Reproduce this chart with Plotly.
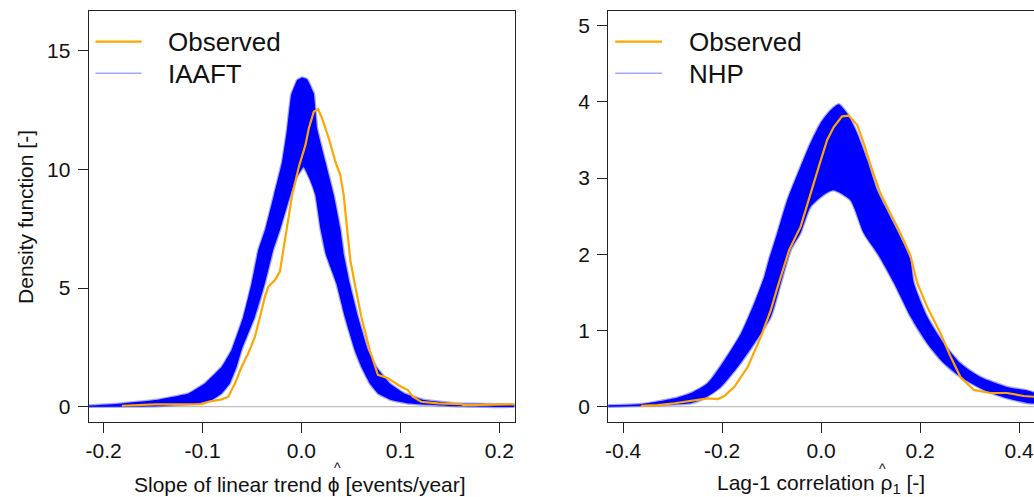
import plotly.graph_objects as go

# ---------------- Left panel: slope of linear trend (IAAFT vs observed) ----------------
slope_ticks = [-0.2, -0.1, 0.0, 0.1, 0.2]
slope_tick_text = ["-0.2", "-0.1", "0.0", "0.1", "0.2"]
density_ticks_left = [0, 5, 10, 15]

# upper envelope of the IAAFT ensemble densities
iaaft_upper_x = [-0.2150, -0.1818, -0.1478, -0.1142, -0.0974, -0.0806, -0.0706, -0.0588, -0.0504,
                 -0.0436, -0.0363, -0.0278, -0.0195, -0.0144, -0.0104, -0.0043, 0.0007, 0.0057,
                 0.0125, 0.0158, 0.0242, 0.0327, 0.0393, 0.0430, 0.0488, 0.0572, 0.0672, 0.0756,
                 0.0891, 0.1042, 0.1244, 0.1546, 0.2154]
iaaft_upper_y = [0.05, 0.14, 0.28, 0.56, 0.99, 1.68, 2.39, 3.79, 5.20,
                 6.60, 7.51, 8.92, 10.32, 11.73, 13.13, 13.76, 13.87, 13.80,
                 13.20, 11.73, 10.32, 8.92, 7.51, 6.39, 5.20, 3.79, 2.39, 1.68,
                 0.99, 0.56, 0.28, 0.14, 0.09]
# lower envelope of the IAAFT ensemble densities
iaaft_lower_x = [-0.2150, -0.1505, -0.1041, -0.0907, -0.0806, -0.0722, -0.0655, -0.0605, -0.0470,
                 -0.0369, -0.0285, -0.0212, -0.0111, -0.0053, 0.0022, 0.0088, 0.0141, 0.0192,
                 0.0249, 0.0353, 0.0438, 0.0538, 0.0605, 0.0690, 0.0773, 0.0907, 0.1076, 0.1519,
                 0.2154]
iaaft_lower_y = [0.0, 0.02, 0.14, 0.28, 0.56, 0.99, 1.68, 2.39, 3.79,
                 5.20, 6.60, 7.51, 8.92, 9.63, 10.10, 9.55, 8.92, 7.51,
                 6.39, 5.20, 3.79, 2.39, 1.68, 0.99, 0.56, 0.28, 0.14, 0.03,
                 0.0]
# observed density of the slope
slope_obs_x = [-0.1815, -0.1478, -0.1008, -0.0941, -0.0806, -0.0739, -0.0671, -0.0605, -0.0537,
               -0.0470, -0.0419, -0.0369, -0.0336, -0.0268, -0.0218, -0.0184, -0.0144, -0.0094,
               -0.0026, 0.0040, 0.0075, 0.0125, 0.0168, 0.0209, 0.0276, 0.0343, 0.0393, 0.0427,
               0.0461, 0.0494, 0.0538, 0.0605, 0.0690, 0.0773, 0.0874, 0.1008, 0.1076, 0.1126,
               0.1210, 0.1378, 0.1613, 0.1647, 0.2151]
slope_obs_y = [0.04, 0.10, 0.11, 0.21, 0.31, 0.42, 0.99, 1.68, 2.25,
               2.95, 3.79, 4.63, 5.05, 5.34, 5.69, 6.60, 7.51, 8.92,
               10.11, 11.02, 11.73, 12.43, 12.54, 12.15, 11.31, 10.32, 9.76, 8.92,
               7.51, 6.18, 5.20, 3.79, 2.39, 1.34, 1.20, 0.84, 0.70, 0.42,
               0.21, 0.14, 0.11, 0.07, 0.10]

# ---------------- Right panel: lag-1 correlation (NHP vs observed) ----------------
rho_ticks = [-0.4, -0.2, 0.0, 0.2, 0.4]
rho_tick_text = ["-0.4", "-0.2", "0.0", "0.2", "0.4"]
density_ticks_right = [0, 1, 2, 3, 4, 5]

nhp_upper_x = [-0.4308, -0.3637, -0.2963, -0.2629, -0.2292, -0.1955, -0.1620, -0.1350, -0.1148,
               -0.1056, -0.0886, -0.0685, -0.0416, -0.0215, -0.0013, 0.0189, 0.0356, 0.0525,
               0.0727, 0.0929, 0.1130, 0.1398, 0.1667, 0.1802, 0.1876, 0.2145, 0.2481, 0.2816,
               0.3219, 0.3758, 0.4310]
nhp_upper_y = [0.02, 0.035, 0.11, 0.18, 0.31, 0.61, 0.96, 1.36, 1.71,
               1.93, 2.28, 2.71, 3.15, 3.46, 3.72, 3.89, 3.97, 3.85,
               3.59, 3.24, 2.84, 2.49, 2.14, 1.93, 1.62, 1.18, 0.83, 0.57,
               0.39, 0.26, 0.18]
nhp_lower_x = [-0.4308, -0.3299, -0.2629, -0.2358, -0.2024, -0.1687, -0.1350, -0.1015, -0.0814,
               -0.0612, -0.0416, -0.0215, 0.0053, 0.0249, 0.0592, 0.0860, 0.1157, 0.1473,
               0.1808, 0.2145, 0.2481, 0.2816, 0.3288, 0.3758, 0.4310]
nhp_lower_y = [0.0, 0.02, 0.045, 0.11, 0.26, 0.52, 0.83, 1.18, 1.62,
               2.06, 2.28, 2.62, 2.78, 2.84, 2.71, 2.28, 1.99, 1.62,
               1.18, 0.83, 0.57, 0.39, 0.22, 0.11, 0.045]
rho_obs_x = [-0.3637, -0.3300, -0.2963, -0.2629, -0.2292, -0.2090, -0.1955, -0.1753, -0.1485,
             -0.1217, -0.1015, -0.0880, -0.0745, -0.0644, -0.0416, -0.0215, -0.0047, 0.0122,
             0.0255, 0.0424, 0.0558, 0.0727, 0.0860, 0.1029, 0.1197, 0.1398, 0.1600, 0.1802,
             0.1943, 0.2145, 0.2413, 0.2614, 0.2816, 0.3086, 0.3421, 0.3758, 0.4095, 0.4310]
rho_obs_y = [0.01, 0.02, 0.045, 0.08, 0.11, 0.10, 0.14, 0.26, 0.52,
             0.92, 1.27, 1.57, 1.84, 2.06, 2.36, 2.80, 3.15, 3.50,
             3.67, 3.81, 3.82, 3.70, 3.46, 3.11, 2.80, 2.54, 2.28, 1.99,
             1.62, 1.31, 0.96, 0.66, 0.39, 0.22, 0.18, 0.18, 0.14, 0.13]

legend_left = ["Observed", "IAAFT"]
legend_right = ["Observed", "NHP"]

ORANGE = "#FFA500"
BLUE = "rgb(0,0,255)"
FONT = "Liberation Sans, Arial, sans-serif"
W, H = 1034, 497
MT, MB = 11, 75


def px(x):
    return x / W


def py(y):
    return (H - MB - y) / (H - MT - MB)


fig = go.Figure()


def add_panel(xa, ya, up_x, up_y, lo_x, lo_y, ob_x, ob_y, smooth):
    fig.add_trace(go.Scatter(
        x=up_x + lo_x[::-1], y=up_y + lo_y[::-1], xaxis=xa, yaxis=ya,
        mode="lines", fill="toself", fillcolor=BLUE,
        line=dict(color="rgba(0,0,255,0.35)", width=2.5, shape="spline", smoothing=smooth),
        hoverinfo="skip", showlegend=False))
    fig.add_trace(go.Scatter(
        x=ob_x, y=ob_y, xaxis=xa, yaxis=ya, mode="lines",
        line=dict(color=ORANGE, width=2.2), showlegend=False))


add_panel("x", "y", iaaft_upper_x, iaaft_upper_y, iaaft_lower_x, iaaft_lower_y, slope_obs_x, slope_obs_y, 0.25)
add_panel("x2", "y2", nhp_upper_x, nhp_upper_y, nhp_lower_x, nhp_lower_y, rho_obs_x, rho_obs_y, 0.6)

axis_common = dict(showgrid=False, zeroline=False, showline=True, linecolor="#222222", linewidth=1.2,
                   ticks="outside", ticklen=10, tickwidth=1.1, tickcolor="#222222",
                   tickfont=dict(family=FONT, size=21, color="#111111"))

fig.update_layout(
    width=W, height=H, margin=dict(l=0, r=0, t=MT, b=MB),
    paper_bgcolor="white", plot_bgcolor="white", showlegend=False,
    xaxis=dict(domain=[px(86), px(513)], range=[-0.215, 0.2154], anchor="y", mirror=True,
               tickvals=slope_ticks, ticktext=slope_tick_text, ticklabelstandoff=0, **axis_common),
    yaxis=dict(domain=[0, 1], range=[-0.644, 16.67], anchor="x", mirror=True,
               tickvals=density_ticks_left, ticktext=[str(v) for v in density_ticks_left],
               ticklabelstandoff=3, **axis_common),
    xaxis2=dict(domain=[px(607), 1.0], range=[-0.4302, 0.4302], anchor="y2", mirror=True,
                tickvals=rho_ticks, ticktext=rho_tick_text, ticklabelstandoff=0, **axis_common),
    yaxis2=dict(domain=[0, 1], range=[-0.2008, 5.193], anchor="x2", mirror=False,
                tickvals=density_ticks_right, ticktext=[str(v) for v in density_ticks_right],
                ticklabelstandoff=3, **axis_common),
)

shapes = []
for xr, yr in [("x domain", "y"), ("x2 domain", "y2")]:
    shapes.append(dict(type="line", xref=xr, yref=yr, x0=0, x1=1, y0=0, y1=0,
                       line=dict(color="#BEBEBE", width=1.2), layer="below"))

annotations = []
for (x0, x1, xt), labels in [((92.7, 139, 163), legend_left), ((614, 661, 685.7), legend_right)]:
    shapes.append(dict(type="line", xref="paper", yref="paper", x0=px(x0), x1=px(x1),
                       y0=py(41.7), y1=py(41.7), line=dict(color=ORANGE, width=2.2)))
    shapes.append(dict(type="line", xref="paper", yref="paper", x0=px(x0), x1=px(x1),
                       y0=py(73.3), y1=py(73.3), line=dict(color="rgba(0,0,255,0.35)", width=1.5)))
    for lab, yy in zip(labels, [42, 73.5]):
        annotations.append(dict(text=lab, xref="paper", yref="paper", x=px(xt), y=py(yy),
                                xanchor="left", yanchor="middle", showarrow=False,
                                font=dict(family=FONT, size=26, color="#111111")))

# axis titles
annotations.append(dict(text="Density function [-]", textangle=-90, xref="paper", yref="paper",
                        x=px(22), y=py(217), xanchor="center", yanchor="middle", showarrow=False,
                        font=dict(family=FONT, size=21, color="#111111")))
annotations.append(dict(text="Slope of linear trend ϕ [events/year]", xref="paper", yref="paper",
                        x=px(298), y=py(484), xanchor="center", yanchor="middle", showarrow=False,
                        font=dict(family=FONT, size=21, color="#111111")))
annotations.append(dict(text="^", xref="paper", yref="paper",
                        x=px(335), y=py(468), xanchor="center", yanchor="middle", showarrow=False,
                        font=dict(family=FONT, size=14, color="#111111")))
annotations.append(dict(text="Lag-1 correlation ρ<sub>1</sub> [-]", xref="paper", yref="paper",
                        x=px(820), y=py(484), xanchor="center", yanchor="middle", showarrow=False,
                        font=dict(family=FONT, size=21, color="#111111")))
annotations.append(dict(text="^", xref="paper", yref="paper",
                        x=px(882), y=py(469), xanchor="center", yanchor="middle", showarrow=False,
                        font=dict(family=FONT, size=14, color="#111111")))

fig.update_layout(shapes=shapes, annotations=annotations)
fig.write_html("out.html", config={"displayModeBar": False},
               post_script="document.body.style.margin='0';document.body.style.overflow='hidden';")
